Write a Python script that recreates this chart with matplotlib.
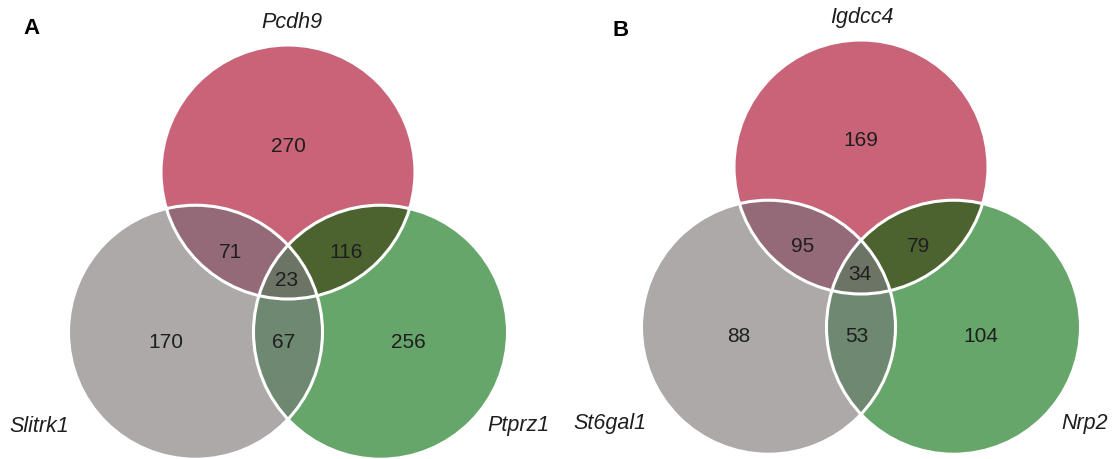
import numpy as np
import matplotlib.pyplot as plt
from matplotlib.patches import Circle, Polygon

plt.rcParams["font.family"] = ["Liberation Sans", "DejaVu Sans"]

# region order: top only, left only, right only, top&left, top&right, left&right, all three
panel_tags = ["A", "B"]
names_a = ["Pcdh9", "Slitrk1", "Ptprz1"]
names_b = ["Igdcc4", "St6gal1", "Nrp2"]
counts_a = [270, 170, 256, 71, 116, 67, 23]
counts_b = [169, 88, 104, 95, 79, 53, 34]

# fills: top, left, right, top&left, top&right, left&right, all three
fills = ["#C96377", "#ACA9A8", "#66A66A", "#946A78", "#4C6330", "#6F8871", "#6C7565"]

R = 127.0       # circle radius (px)
D = 185.0       # distance between circle centres (px)

# label offsets from the top circle centre, same order as the counts
count_offsets = [(0, -26), (-122, 170), (120, 170), (-58, 80), (58, 80), (-4, 170), (-1, 108)]


def triple_region(centers, r, n=600):
    pts = []
    t = np.linspace(0, 2 * np.pi, n)
    for i, c in enumerate(centers):
        p = np.c_[c[0] + r * np.cos(t), c[1] + r * np.sin(t)]
        others = [centers[j] for j in range(3) if j != i]
        inside = np.all([np.hypot(p[:, 0] - o[0], p[:, 1] - o[1]) <= r + 1e-9 for o in others], axis=0)
        pts.append(p[inside])
    pts = np.vstack(pts)
    mid = pts.mean(axis=0)
    order = np.argsort(np.arctan2(pts[:, 1] - mid[1], pts[:, 0] - mid[0]))
    return pts[order]


def venn3(ax, cx, cy, names, counts, tag, name_pos, tag_pos):
    h = D * np.sqrt(3) / 2
    centers = [(cx, cy), (cx - D / 2, cy + h), (cx + D / 2, cy + h)]
    for c, col in zip(centers, fills[:3]):
        ax.add_patch(Circle(c, R, fc=col, ec="none", zorder=1))
    pairs = [(0, 1), (0, 2), (1, 2)]
    for (i, j), col in zip(pairs, fills[3:6]):
        p = Circle(centers[i], R, fc=col, ec="none", zorder=2)
        ax.add_patch(p)
        p.set_clip_path(Circle(centers[j], R, transform=ax.transData))
    ax.add_patch(Polygon(triple_region(centers, R), closed=True, fc=fills[6], ec="none", zorder=3))
    for c in centers:
        ax.add_patch(Circle(c, R, fill=False, ec="white", lw=2.2, zorder=4))

    for n, (dx, dy) in zip(counts, count_offsets):
        ax.text(cx + dx, cy + dy, str(n), ha="center", va="center", fontsize=15,
                color="#1E1E1E", zorder=5)
    for nm, (x, y) in zip(names, name_pos):
        ax.text(x, y, nm, ha="center", va="center", fontsize=15.5, style="italic",
                color="#1E1E1E")
    ax.text(tag_pos[0], tag_pos[1], tag, ha="center", va="center", fontsize=16,
            fontweight="bold", color="black")


fig = plt.figure(figsize=(11.15, 4.59), dpi=100)
ax = fig.add_axes([0, 0, 1, 1])
ax.set_xlim(0, 1115)
ax.set_ylim(459, 0)
ax.axis("off")

venn3(ax, 288, 172, names_a, counts_a, panel_tags[0],
      [(292, 22), (39, 426), (518, 426)], (32, 29))
venn3(ax, 861, 167, names_b, counts_b, panel_tags[1],
      [(862, 17), (610, 424), (1085, 424)], (621, 30))

fig.savefig("out.png", dpi=100, facecolor="white")
